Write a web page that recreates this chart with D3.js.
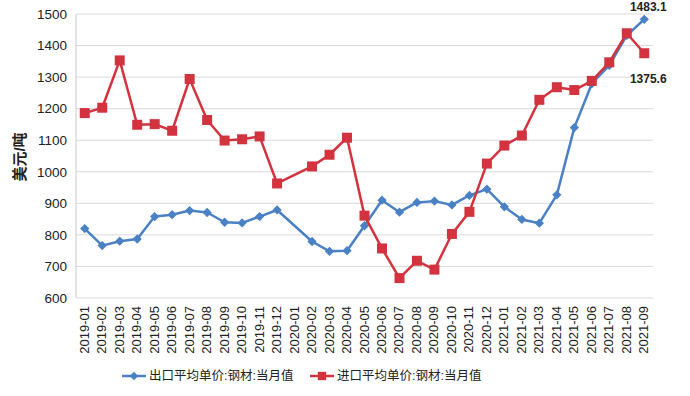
<!DOCTYPE html>
<html>
<head>
<meta charset="utf-8">
<script src="https://cdn.jsdelivr.net/npm/d3@7"></script>
<style>
  body { margin: 0; background: #fff; }
  text { font-family: "Liberation Sans", "Noto Sans CJK SC", sans-serif; }
</style>
</head>
<body>
<div id="chart"></div>
<script>
// months on the x axis
const months = [
  "2019-01","2019-02","2019-03","2019-04","2019-05","2019-06","2019-07","2019-08","2019-09","2019-10","2019-11","2019-12",
  "2020-01","2020-02","2020-03","2020-04","2020-05","2020-06","2020-07","2020-08","2020-09","2020-10","2020-11","2020-12",
  "2021-01","2021-02","2021-03","2021-04","2021-05","2021-06","2021-07","2021-08","2021-09"
];
// export average unit price (null = no data)
const exportPrice = [
  820, 766, 780, 787, 858, 864, 877, 871, 840, 838, 858, 879,
  null, 779, 748, 750, 829, 910, 872, 903, 907, 895, 925, 945,
  889, 849, 837, 927, 1140, 1279, 1337, 1432, 1483.1
];
// import average unit price
const importPrice = [
  1186, 1203, 1353, 1149, 1151, 1130, 1294, 1164, 1099, 1103, 1112, 963,
  null, 1017, 1054, 1108, 861, 757, 663, 718, 690, 803, 873, 1026,
  1083, 1115, 1228, 1268, 1259, 1288, 1347, 1439, 1375.6
];
const yTicks = [600, 700, 800, 900, 1000, 1100, 1200, 1300, 1400, 1500];
const seriesNames = ["出口平均单价:钢材:当月值", "进口平均单价:钢材:当月值"];

const blue = "#4a80c4", red = "#d2333f";

const W = 690, H = 396;
const margin = { top: 14, right: 37, bottom: 98, left: 76 };
const width = W - margin.left - margin.right,
  height = H - margin.top - margin.bottom;

const svg = d3.select("#chart").append("svg")
  .attr("width", W).attr("height", H);
const g = svg.append("g").attr("transform", `translate(${margin.left},${margin.top})`);

const x = d3.scaleBand().domain(months).range([0, width]);
const y = d3.scaleLinear().domain([600, 1500]).range([height, 0]);

// gridlines
g.append("g").selectAll("line").data(yTicks).join("line")
  .attr("x1", 0).attr("x2", width)
  .attr("y1", d => y(d)).attr("y2", d => y(d))
  .attr("stroke", "#d9d9d9").attr("stroke-width", 1);

// left axis line
g.append("line").attr("x1", 0).attr("x2", 0).attr("y1", 0).attr("y2", height)
  .attr("stroke", "#c8c8c8");

// y tick labels
g.append("g").selectAll("text").data(yTicks).join("text")
  .attr("x", -9).attr("y", d => y(d)).attr("dy", "0.35em")
  .attr("text-anchor", "end")
  .attr("font-size", 13.5).attr("fill", "#222")
  .text(d => d);

// x tick labels
g.append("g").selectAll("text").data(months).join("text")
  .attr("transform", d => `translate(${x(d) + x.bandwidth() / 2 + 4},${height + 8}) rotate(-90)`)
  .attr("text-anchor", "end")
  .attr("font-size", 13).attr("fill", "#222")
  .text(d => d);

// y axis title
svg.append("text")
  .attr("transform", `translate(25,${margin.top + 143}) rotate(-90)`)
  .attr("text-anchor", "middle")
  .attr("font-size", 15).attr("font-weight", "bold").attr("fill", "#222")
  .text("美元/吨");

const cx = d => x(d) + x.bandwidth() / 2;
const line = d3.line()
  .defined(d => d[1] != null)
  .x(d => cx(d[0]))
  .y(d => y(d[1]));

function series(values, color, marker) {
  const pts = months.map((m, i) => [m, values[i]]);
  const valid = pts.filter(d => d[1] != null);
  g.append("path").datum(valid)
    .attr("fill", "none").attr("stroke", color)
    .attr("stroke-width", 2.5).attr("stroke-linejoin", "round")
    .attr("d", line);
  g.append("g").selectAll("path").data(valid).join("path")
    .attr("d", d3.symbol().type(marker === "square" ? d3.symbolSquare : d3.symbolDiamond2)
      .size(marker === "square" ? 100 : 55))
    .attr("transform", d => `translate(${cx(d[0])},${y(d[1])})`)
    .attr("fill", color);
}

series(exportPrice, blue, "diamond");
series(importPrice, red, "square");

// end labels
const last = months[months.length - 1];
g.append("text")
  .attr("x", cx(last) + 4).attr("y", y(exportPrice[exportPrice.length - 1]) - 8)
  .attr("text-anchor", "middle").attr("font-size", 12).attr("font-weight", "bold").attr("fill", "#222")
  .text(exportPrice[exportPrice.length - 1].toFixed(1));
g.append("text")
  .attr("x", cx(last) + 4).attr("y", y(importPrice[importPrice.length - 1]) + 30)
  .attr("text-anchor", "middle").attr("font-size", 12).attr("font-weight", "bold").attr("fill", "#222")
  .text(importPrice[importPrice.length - 1].toFixed(1));

// legend
const legend = svg.append("g").attr("transform", "translate(122,376)");
[[blue, "diamond"], [red, "square"]].forEach(([color, marker], i) => {
  const lg = legend.append("g").attr("transform", `translate(${i * 188},0)`);
  lg.append("line").attr("x1", 0).attr("x2", 24).attr("stroke", color).attr("stroke-width", 2.5);
  lg.append("path")
    .attr("d", d3.symbol().type(marker === "square" ? d3.symbolSquare : d3.symbolDiamond2)
      .size(marker === "square" ? 70 : 45))
    .attr("transform", "translate(12,0)").attr("fill", color);
  lg.append("text").attr("x", 27).attr("dy", "0.35em")
    .attr("font-size", 12.5).attr("fill", "#222")
    .text(seriesNames[i]);
});
</script>
</body>
</html>
